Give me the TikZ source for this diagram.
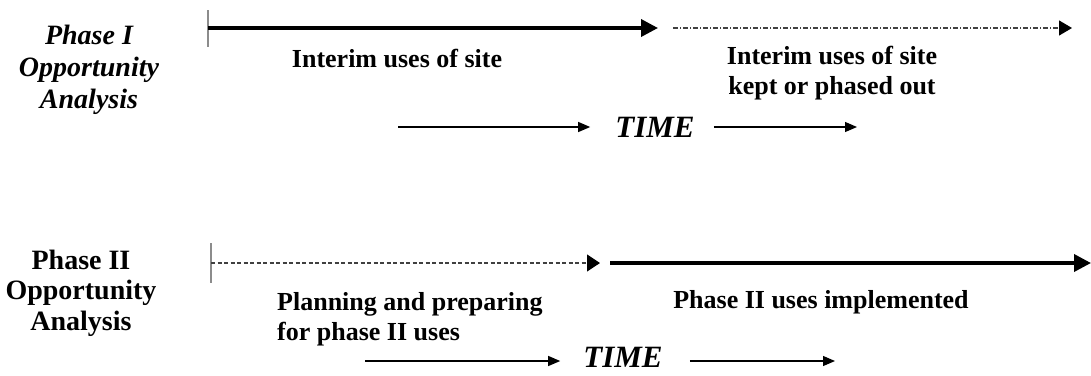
\documentclass[tikz,border=0pt]{standalone}
\usepackage{fontspec}
\setmainfont{Liberation Serif}
\usetikzlibrary{arrows.meta}

\begin{document}
\begin{tikzpicture}[x=1pt,y=-1pt,
	phasetext/.style={align=center,inner sep=0pt},
	usetext/.style={align=center,inner sep=0pt,font=\bfseries\fontsize{26}{30}\selectfont},
	timetext/.style={inner sep=0pt,font=\bfseries\itshape\fontsize{31}{34}\selectfont},
	tickline/.style={line width=1.5pt,black!45},
	solidphase/.style={line width=3.6pt,-{Triangle[length=17pt,width=17pt]}},
	dotphase/.style={line width=1.2pt,black!75,dash pattern=on 5pt off 2pt on 1pt off 2pt,-{Triangle[length=13pt,width=15pt,fill=black,color=black]}},
	dashphase/.style={line width=1.2pt,black!75,dash pattern=on 4pt off 2.5pt,-{Triangle[length=13pt,width=17pt,fill=black,color=black]}},
	timearrow/.style={line width=1.2pt,-{Triangle[length=12pt,width=10pt]}}]

				\useasboundingbox (0,0) rectangle (1091,375);

				\node[phasetext,font=\bfseries\itshape\fontsize{28}{32}\selectfont] (phaseA) at (89,70) {Phase I\\Opportunity\\Analysis};

				\coordinate (tickA top) at (208,10);
				\coordinate (tickA bot) at (208,47);
				\coordinate (interimA start) at (208,28);
				\coordinate (interimA end) at (658,28);
				\coordinate (keptA start) at (673,28);
				\coordinate (keptA end) at (1072,28);
				\draw[tickline] (tickA top) -- (tickA bot);
				\draw[solidphase] (interimA start) -- (interimA end);
				\draw[dotphase] (keptA start) -- (keptA end);

				\node[usetext] (interimA) at (397,59) {Interim uses of site};
				\node[usetext] (keptA) at (832,73) {Interim uses of site\\kept or phased out};

				\node[timetext] (timeA) at (655,127) {TIME};
				\coordinate (timeA left) at (398,127);
				\coordinate (timeA right) at (857,127);
				\draw[timearrow] (timeA left) -- ([xshift=-25pt]timeA.west);
				\draw[timearrow] ([xshift=19pt]timeA.east) -- (timeA right);

				\node[phasetext,font=\bfseries\fontsize{28}{30.5}\selectfont] (phaseB) at (81,293) {Phase II\\Opportunity\\Analysis};

				\coordinate (tickB top) at (211,243);
				\coordinate (tickB bot) at (211,283);
				\coordinate (planB start) at (211,263);
				\coordinate (planB end) at (600,263);
				\coordinate (implB start) at (610,263);
				\coordinate (implB end) at (1091,263);
				\draw[tickline] (tickB top) -- (tickB bot);
				\draw[dashphase] (planB start) -- (planB end);
				\draw[solidphase] (implB start) -- (implB end);

				\node[usetext,align=left,anchor=west] (planB) at (277,319) {Planning and preparing\\for phase II uses};
				\node[usetext] (implB) at (821,302) {Phase II uses implemented};

				\node[timetext] (timeB) at (623,357) {TIME};
				\coordinate (timeB left) at (365,361);
				\coordinate (timeB right) at (835,361);
				\draw[timearrow] (timeB left) -- ([xshift=-23pt]timeB.west |- timeB left);
				\draw[timearrow] ([xshift=27pt]timeB.east |- timeB right) -- (timeB right);
\end{tikzpicture}
\end{document}
